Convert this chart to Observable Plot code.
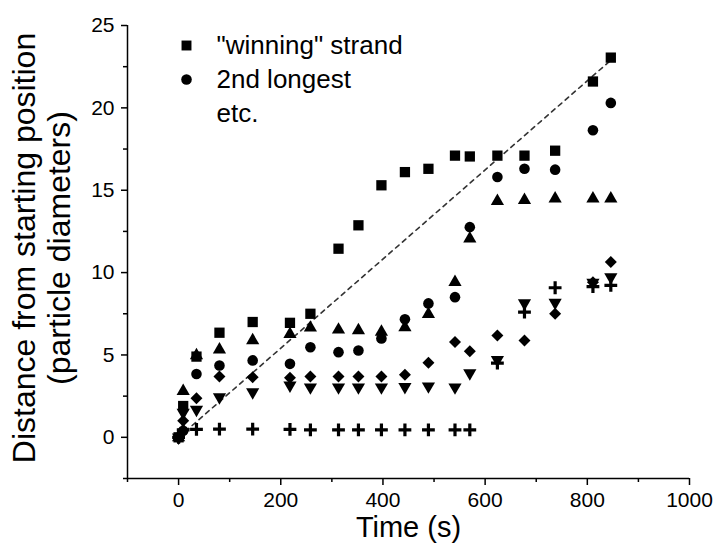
<!DOCTYPE html>
<html>
<head>
<meta charset="utf-8">
<script src="https://cdn.jsdelivr.net/npm/d3@7"></script>
<script src="https://cdn.jsdelivr.net/npm/@observablehq/plot@0.6"></script>
<style>
  html, body { margin: 0; padding: 0; background: #fff; }
  #chart { width: 717px; height: 548px; }
</style>
</head>
<body>
<div id="chart"></div>
<script>
// Time points (s)
const times = [0, 9, 35, 80, 145, 218, 258, 313, 352, 397, 443, 489, 541, 570, 624, 677, 737, 811, 846];
// Distance from starting position (particle diameters), one array per strand
const winning = [0, 1.9, 4.9, 6.35, 7.0, 6.95, 7.5, 11.45, 12.87, 15.3, 16.1, 16.3, 17.1, 17.05, 17.1, 17.1, 17.4, 21.6, 23.05];
const second  = [0, 0.4, 3.84, 4.36, 4.67, 4.46, 5.47, 5.17, 5.27, 6.0, 7.17, 8.13, 8.51, 12.76, 15.8, 16.3, 16.25, 18.64, 20.3];
const third   = [0, 2.8, 4.97, 5.32, 5.88, 6.26, 6.65, 6.53, 6.49, 6.4, 6.67, 7.48, 9.42, 12.06, 14.34, 14.4, 14.49, 14.49, 14.49];
const fourth  = [0, 1.0, 2.37, 3.69, 3.65, 3.62, 3.69, 3.69, 3.69, 3.69, 3.8, 4.53, 5.78, 5.23, 6.18, 5.88, 7.5, 9.42, 10.64];
const fifth   = [0, 1.5, 1.68, 2.44, 2.74, 3.15, 3.04, 3.04, 3.04, 3.04, 3.06, 3.1, 3.04, 3.9, 4.7, 8.15, 8.18, 9.4, 9.73];
const sixth   = [0, 0.45, 0.48, 0.5, 0.5, 0.48, 0.45, 0.45, 0.45, 0.45, 0.45, 0.45, 0.45, 0.45, 4.5, 7.6, 9.08, 9.15, 9.22];
// Dashed guide line endpoints
const guideT = [0, 850];
const guideD = [0, 23];
// Axis ticks
const xMajor = [0, 200, 400, 600, 800, 1000];
const xMinor = [-100, 100, 300, 500, 700, 900];
const yMajor = [0, 5, 10, 15, 20, 25];
const yMinor = [-2.5, 2.5, 7.5, 12.5, 17.5, 22.5];
// Legend texts
const legendLabels = ["\"winning\" strand", "2nd longest", "etc."];
const xTitle = "Time (s)";
const yTitle = "Distance from starting position\n(particle diameters)";

const rows = (arr) => times.map((t, i) => ({t, d: arr[i]}));
const guide = guideT.map((t, i) => ({t, d: guideD[i]}));

const triangleDown = {
  draw(context, size) {
    const y = Math.sqrt(size / (Math.sqrt(3) * 3));
    context.moveTo(0, 2 * y);
    context.lineTo(-Math.sqrt(3) * y, -y);
    context.lineTo(Math.sqrt(3) * y, -y);
    context.closePath();
  }
};

const font = "'Liberation Sans', Arial, Helvetica, sans-serif";
const plain = (d) => String(d);

const chart = Plot.plot({
  width: 717,
  height: 548,
  marginLeft: 127,
  marginRight: 28,
  marginTop: 25,
  marginBottom: 70,
  x: {domain: [-100, 1000], label: null},
  y: {domain: [-2.5, 25], label: null},
  style: {fontFamily: font, fontSize: "21px", color: "black", background: "white"},
  marks: [
    // guide line
    Plot.line(guide, {x: "t", y: "d", stroke: "#333", strokeWidth: 1.6, strokeDasharray: "4.5,4.5"}),
    // axes
    Plot.axisX({ticks: xMajor, tickSize: 7, tickPadding: 7, tickFormat: plain, label: null, fontSize: 21, strokeWidth: 1.5}),
    Plot.axisX({ticks: xMinor, tickSize: 4, tickFormat: () => "", label: null, strokeWidth: 1.5}),
    Plot.axisY({ticks: yMajor, tickSize: 6, tickPadding: 7, tickFormat: plain, label: null, fontSize: 21, strokeWidth: 1.5}),
    Plot.axisY({ticks: yMinor, tickSize: 4, tickFormat: () => "", label: null, strokeWidth: 1.5}),
    Plot.ruleX([-100], {stroke: "black", strokeWidth: 1.5}),
    Plot.ruleY([-2.5], {stroke: "black", strokeWidth: 1.5}),
    // data
    Plot.dot(rows(sixth), {x: "t", y: "d", symbol: "plus", r: 4.2, stroke: "black", strokeWidth: 3.2}),
    Plot.dot(rows(fifth), {x: "t", y: "d", symbol: triangleDown, r: 4.9, fill: "black"}),
    Plot.dot(rows(fourth), {x: "t", y: "d", symbol: "diamond2", r: 5.4, fill: "black"}),
    Plot.dot(rows(third), {x: "t", y: "d", symbol: "triangle", r: 4.9, fill: "black"}),
    Plot.dot(rows(second), {x: "t", y: "d", symbol: "circle", r: 5.3, fill: "black"}),
    Plot.dot(rows(winning), {x: "t", y: "d", symbol: "square", r: 5.8, fill: "black"}),
    // legend
    Plot.dot([legendLabels[0]], {frameAnchor: "top-left", dx: 59, dy: 20, symbol: "square", r: 5.6, fill: "black"}),
    Plot.dot([legendLabels[1]], {frameAnchor: "top-left", dx: 59, dy: 54, symbol: "circle", r: 5.3, fill: "black"}),
    Plot.text([legendLabels[0]], {frameAnchor: "top-left", dx: 89, dy: 20, textAnchor: "start", lineAnchor: "middle", fontSize: 26}),
    Plot.text([legendLabels[1]], {frameAnchor: "top-left", dx: 89, dy: 54, textAnchor: "start", lineAnchor: "middle", fontSize: 26}),
    Plot.text([legendLabels[2]], {frameAnchor: "top-left", dx: 89, dy: 88, textAnchor: "start", lineAnchor: "middle", fontSize: 26}),
    // axis titles
    Plot.text([xTitle], {frameAnchor: "bottom", dy: 49, textAnchor: "middle", lineAnchor: "middle", fontSize: 29}),
    Plot.text([yTitle], {frameAnchor: "left", dx: -86, dy: -4, rotate: -90, textAnchor: "middle", lineAnchor: "middle", lineHeight: 1.1, fontSize: 32})
  ]
});

document.getElementById("chart").appendChild(chart);
</script>
</body>
</html>
